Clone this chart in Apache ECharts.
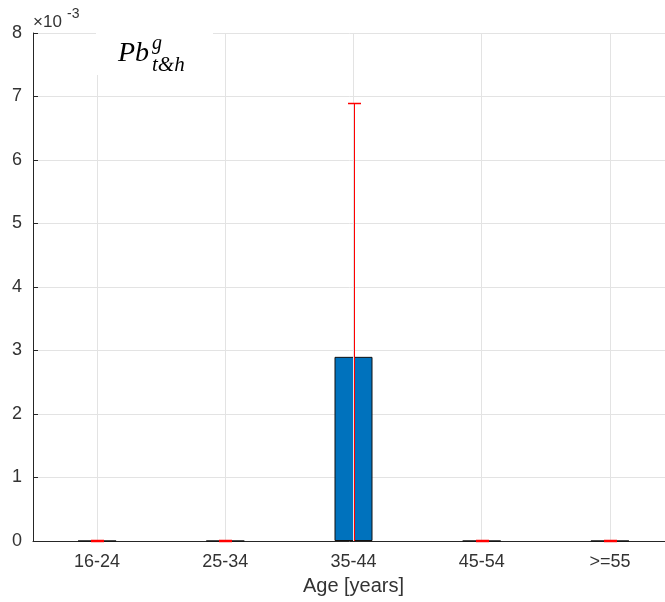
<!DOCTYPE html>
<html>
<head>
<meta charset="utf-8">
<script src="https://cdn.jsdelivr.net/npm/echarts@6/dist/echarts.min.js"></script>
<style>html,body{margin:0;padding:0;background:#fff;}#c{width:665px;height:602px;}</style>
</head>
<body>
<div id="c"></div>
<script>
// Data
const categories = ['16-24', '25-34', '35-44', '45-54', '>=55'];
const values = [0, 0, 0.0029, 0, 0];
const errLow = [0, 0, -0.0011, 0, 0];
const errHigh = [0, 0, 0.0069, 0, 0];
const yTicks = [0, 1, 2, 3, 4, 5, 6, 7, 8]; // ×10^-3
const xAxisName = 'Age [years]';

const chart = echarts.init(document.getElementById('c'), null, {renderer: 'canvas'});
const font = 'Liberation Sans, Arial, Helvetica, sans-serif';
const textColor = '#333333';

const errData = categories.map((c, i) => [i, errLow[i], errHigh[i]]);

const option = {
  animation: false,
  backgroundColor: '#ffffff',
  grid: {left: 33, top: 33, width: 641, height: 508, containLabel: false, outerBoundsMode: 'none'},
  xAxis: {
    type: 'category',
    data: categories,
    boundaryGap: true,
    name: xAxisName,
    nameLocation: 'middle',
    nameGap: 35,
    nameTextStyle: {fontFamily: font, fontSize: 20, color: textColor},
    axisLine: {show: true, lineStyle: {color: '#262626', width: 1}},
    axisTick: {show: true, inside: true, alignWithLabel: true, length: 5, lineStyle: {color: '#262626'}},
    axisLabel: {fontFamily: font, fontSize: 18, color: textColor, margin: 12},
    splitLine: {show: false}
  },
  yAxis: {
    type: 'value',
    min: 0,
    max: 0.008,
    interval: 0.001,
    axisLine: {show: true, lineStyle: {color: '#262626', width: 1}},
    axisTick: {show: true, inside: true, length: 5, lineStyle: {color: '#262626'}},
    axisLabel: {
      fontFamily: font, fontSize: 18, color: textColor, margin: 11,
      formatter: v => String(yTicks[Math.round(v * 1000)])
    },
    splitLine: {show: true, lineStyle: {color: '#e3e3e3', width: 1}}
  },
  series: [
    {
      type: 'line',
      data: [],
      z: 1,
      silent: true,
      markLine: {
        silent: true,
        symbol: 'none',
        label: {show: false},
        lineStyle: {color: '#e3e3e3', width: 1, type: 'solid'},
        data: categories.map(c => ({xAxis: c}))
      }
    },
    {
      type: 'bar',
      data: values,
      barWidth: 38,
      z: 2,
      itemStyle: {color: '#0072BD', borderColor: '#111', borderWidth: 1}
    },
    {
      type: 'custom',
      z: 5,
      data: errData,
      renderItem: function (params, api) {
        const cs = params.coordSys;
        const x = Math.round(api.coord([api.value(0), 0])[0]) + 0.5;
        const yl = Math.round(api.coord([api.value(0), api.value(1)])[1]) - 0.5;
        const yh = Math.round(api.coord([api.value(0), api.value(2)])[1]) + 0.5;
        const top = cs.y, bot = cs.y + cs.height;
        const cyl = Math.min(Math.max(yl, top), bot);
        const cyh = Math.min(Math.max(yh, top), bot);
        const st = {stroke: '#ff0000', lineWidth: 1, fill: null};
        const capSt = {stroke: '#ff0000', lineWidth: 1.5, fill: null};
        const hw = 6.5;
        const children = [
          {type: 'line', shape: {x1: x, y1: cyl, x2: x, y2: cyh}, style: Object.assign({}, st)}
        ];
        if (yh >= top && yh <= bot + 1) children.push({type: 'line', shape: {x1: x - hw, y1: yh, x2: x + hw, y2: yh}, style: Object.assign({}, capSt)});
        if (yl >= top && yl <= bot + 1) children.push({type: 'line', shape: {x1: x - hw, y1: yl, x2: x + hw, y2: yl}, style: Object.assign({}, capSt)});
        return {type: 'group', children: children};
      }
    }
  ],
  graphic: [
    {type: 'rect', z: 100, shape: {x: 96, y: 30, width: 117, height: 45}, style: {fill: '#ffffff'}},
    {type: 'text', z: 101, x: 118, y: 40, style: {text: 'Pb', font: 'italic 28px "Liberation Serif", "DejaVu Serif", serif', fill: '#000', verticalAlign: 'top'}},
    {type: 'text', z: 101, x: 152, y: 34, style: {text: 'g', font: 'italic 20px "Liberation Serif", "DejaVu Serif", serif', fill: '#000', verticalAlign: 'top'}},
    {type: 'text', z: 101, x: 152, y: 55, style: {text: 't&h', font: 'italic 21px "Liberation Serif", "DejaVu Serif", serif', fill: '#000', verticalAlign: 'top'}},
    {type: 'text', z: 101, x: 33, y: 14, style: {text: '×10', font: '17px ' + font, fill: textColor, verticalAlign: 'top'}},
    {type: 'text', z: 101, x: 67, y: 7, style: {text: '-3', font: '14px ' + font, fill: textColor, verticalAlign: 'top'}}
  ]
};
chart.setOption(option);
</script>
</body>
</html>
